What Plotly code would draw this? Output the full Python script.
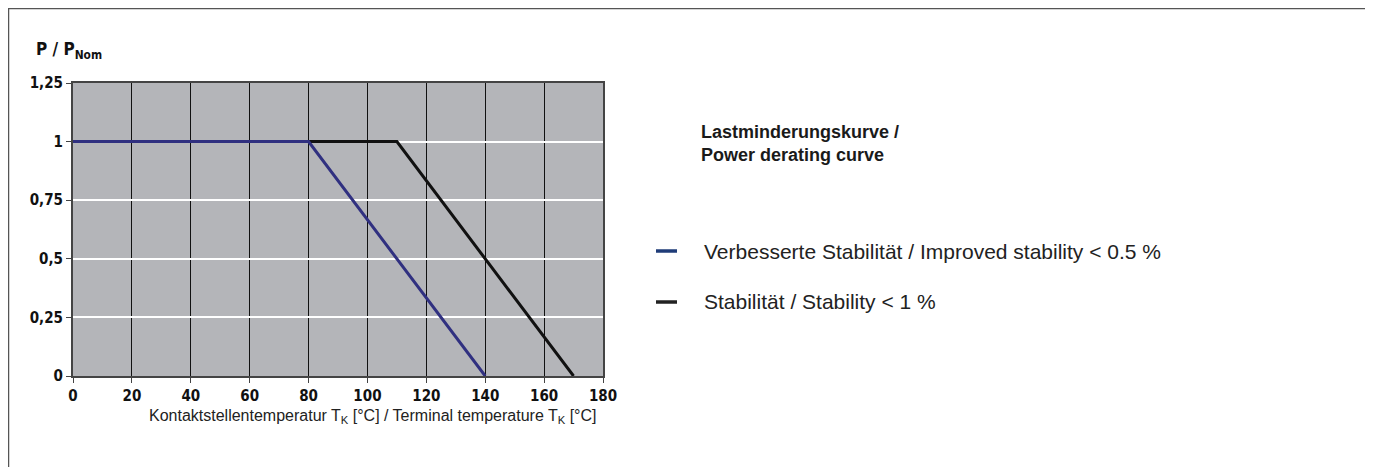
import plotly.graph_objects as go

# Data
temp_improved = [0, 80, 140]
power_improved = [1, 1, 0]
temp_standard = [0, 110, 170]
power_standard = [1, 1, 0]
x_ticks = [0, 20, 40, 60, 80, 100, 120, 140, 160, 180]
y_ticks = [0, 0.25, 0.5, 0.75, 1, 1.25]
y_tick_labels = ["0", "0,25", "0,5", "0,75", "1", "1,25"]
legend_names = ["Verbesserte Stabilität / Improved stability < 0.5 %", "Stabilität / Stability < 1 %"]

OFF = 8  # page body margin
W, H = 1373 - OFF, 467 - OFF
# plot area in screen coordinates
SL, SR, ST, SB = 73, 603, 83, 376
L, R, T, B = SL - OFF, SR - OFF, ST - OFF, SB - OFF
pw, ph = R - L, B - T

def px(sx):
    return (sx - OFF - L) / pw

def py(sy):
    return (B - (sy - OFF)) / ph

BLUE = "#303080"
BLUE_LEG = "#1f3c78"
BLACK = "#111111"
SANS = "Liberation Sans, Arial, sans-serif"
NARROW = "Liberation Sans Narrow, Arial Narrow, DejaVu Sans Condensed, sans-serif"

fig = go.Figure()
fig.add_trace(go.Scatter(x=temp_standard, y=power_standard, mode="lines",
                         line=dict(color=BLACK, width=3), showlegend=False, name=legend_names[1]))
fig.add_trace(go.Scatter(x=temp_improved, y=power_improved, mode="lines",
                         line=dict(color=BLUE, width=3), showlegend=False, name=legend_names[0]))

tickfont = dict(family=NARROW, size=15, color="#111")

fig.update_xaxes(range=[0, 180], tickvals=x_ticks, ticktext=[f"<b>{v}</b>" for v in x_ticks],
                 showgrid=True, gridcolor="#111", gridwidth=1,
                 showline=True, linecolor="#444", linewidth=2, mirror=True,
                 ticks="outside", ticklen=5, tickcolor="#444", tickwidth=1,
                 tickfont=tickfont, zeroline=False, fixedrange=True)
fig.update_yaxes(range=[0, 1.25], tickvals=y_ticks, ticktext=[f"<b>{t}</b>" for t in y_tick_labels],
                 showgrid=True, gridcolor="#ffffff", gridwidth=1.5,
                 showline=True, linecolor="#444", linewidth=2, mirror=True,
                 ticks="outside", ticklen=5, tickcolor="#444", tickwidth=1,
                 tickfont=tickfont, zeroline=False, fixedrange=True)

shapes = [
    # outer border
    dict(type="rect", xref="paper", yref="paper", x0=px(8.5), x1=px(1368), y0=py(480), y1=py(8.5),
         line=dict(color="#555", width=1.5), fillcolor="rgba(0,0,0,0)", layer="below"),
    # legend swatches
    dict(type="line", xref="paper", yref="paper", x0=px(656), x1=px(677), y0=py(251), y1=py(251),
         line=dict(color=BLUE_LEG, width=3.5)),
    dict(type="line", xref="paper", yref="paper", x0=px(656), x1=px(677), y0=py(302), y1=py(302),
         line=dict(color="#222", width=3.5)),
]

annotations = [
    dict(text="<b>P / P<sub>Nom</sub></b>", xref="paper", yref="paper", x=px(34), y=py(50),
         xanchor="left", yanchor="middle", showarrow=False,
         font=dict(family=NARROW, size=17, color="#111")),
    dict(text="Kontaktstellentemperatur T<sub>K</sub> [°C] / Terminal temperature T<sub>K</sub> [°C]",
         xref="paper", yref="paper", x=px(372), y=py(416), xanchor="center", yanchor="middle",
         showarrow=False, font=dict(family=SANS, size=16, color="#222")),
    dict(text="<b>Lastminderungskurve /<br>Power derating curve</b>", xref="paper", yref="paper",
         x=px(699), y=py(143), xanchor="left", yanchor="middle", align="left", showarrow=False,
         font=dict(family=SANS, size=18, color="#1a1a1a")),
    dict(text=legend_names[0], xref="paper", yref="paper", x=px(702), y=py(251), xanchor="left",
         yanchor="middle", showarrow=False,
         font=dict(family=SANS, size=21, color="#222")),
    dict(text=legend_names[1], xref="paper", yref="paper", x=px(702), y=py(301), xanchor="left",
         yanchor="middle", showarrow=False,
         font=dict(family=SANS, size=21, color="#222")),
]

fig.update_layout(width=W, height=H, margin=dict(l=L, r=W - R, t=T, b=H - B, autoexpand=False),
                  plot_bgcolor="#b4b5b9", paper_bgcolor="#ffffff",
                  shapes=shapes, annotations=annotations, showlegend=False)

fig.write_html("out.html", config={"displayModeBar": False})
